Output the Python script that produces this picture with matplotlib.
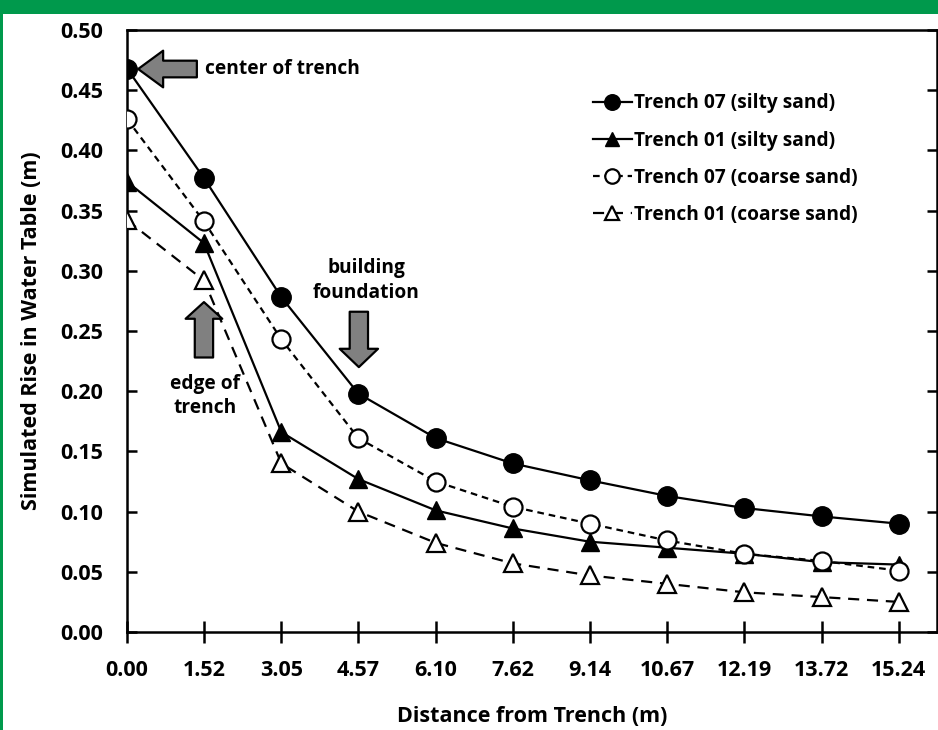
#!/usr/bin/env python3
"""
Simulated rise in water table vs distance from trench
"""

import matplotlib
matplotlib.use('Agg')
import matplotlib.pyplot as plt
from matplotlib.patches import Rectangle

plt.rcParams['font.family'] = ['Open Sans', 'DejaVu Sans']
plt.rcParams['font.weight'] = 'bold'

# Data
distance = [0.00, 1.52, 3.05, 4.57, 6.10, 7.62, 9.14, 10.67, 12.19, 13.72, 15.24]
tick_labels = ['0.00', '1.52', '3.05', '4.57', '6.10', '7.62', '9.14',
               '10.67', '12.19', '13.72', '15.24']

t07_silty = [0.468, 0.377, 0.278, 0.198, 0.161, 0.140, 0.126, 0.113, 0.103, 0.096, 0.090]
t01_silty = [0.374, 0.323, 0.166, 0.127, 0.101, 0.086, 0.075, 0.070, 0.065, 0.058, 0.056]
t07_coarse = [0.426, 0.341, 0.243, 0.161, 0.125, 0.104, 0.090, 0.076, 0.065, 0.059, 0.051]
t01_coarse = [0.342, 0.292, 0.140, 0.100, 0.074, 0.057, 0.047, 0.040, 0.033, 0.029, 0.025]

fig = plt.figure(figsize=(9.38, 7.30), dpi=100)
ax = fig.add_axes([127 / 938, 98 / 730, 810 / 938, 602 / 730])

# green frame of the source page
green = '#00994C'
fig.patches.append(Rectangle((0, 1 - 14 / 730), 1, 14 / 730, transform=fig.transFigure,
                             facecolor=green, edgecolor='none', zorder=0))
fig.patches.append(Rectangle((0, 0), 3 / 938, 1, transform=fig.transFigure,
                             facecolor=green, edgecolor='none', zorder=0))

lw = 1.6
ax.plot(distance, t01_coarse, color='black', lw=lw, dashes=(5, 3.5), marker='^', ms=13,
        mfc='white', mec='black', mew=1.6, label='Trench 01 (coarse sand)', zorder=3)
ax.plot(distance, t07_coarse, color='black', lw=lw, dashes=(3, 2.2), marker='o', ms=13,
        mfc='white', mec='black', mew=1.6, label='Trench 07 (coarse sand)', zorder=4)
ax.plot(distance, t01_silty, color='black', lw=lw, marker='^', ms=13,
        mfc='black', mec='black', label='Trench 01 (silty sand)', zorder=3.5)
ax.plot(distance, t07_silty, color='black', lw=lw, marker='o', ms=14,
        mfc='black', mec='black', label='Trench 07 (silty sand)', zorder=5)

ax.set_xlim(0, 16.0)
ax.set_ylim(0, 0.50)
ax.set_xticks(distance)
ax.set_xticklabels(tick_labels)
ax.set_yticks([0.00, 0.05, 0.10, 0.15, 0.20, 0.25, 0.30, 0.35, 0.40, 0.45, 0.50])
ax.set_yticklabels([f'{v:.2f}' for v in ax.get_yticks()])

ax.tick_params(axis='x', direction='inout', length=16, width=1.8, pad=12, labelsize=15.5)
ax.tick_params(axis='y', direction='in', length=7, width=1.8, pad=17, labelsize=15.5,
               right=True)
for s in ax.spines.values():
    s.set_linewidth(1.8)

ax.set_xlabel('Distance from Trench (m)', fontsize=15.5, fontweight='bold', labelpad=18)
ax.set_ylabel('Simulated Rise in Water Table (m)', fontsize=15.5, fontweight='bold', labelpad=13)

# annotation arrows
arrow_kw = dict(facecolor='#808080', edgecolor='black', lw=1.6)
ax.annotate('', xy=(0.22, 0.4676), xytext=(1.38, 0.4676),
            arrowprops=dict(arrowstyle='simple,head_width=2.2,head_length=1.5,tail_width=1.0',
                            mutation_scale=12, shrinkA=0, shrinkB=0, **arrow_kw))
ax.annotate('', xy=(1.52, 0.274), xytext=(1.52, 0.228),
            arrowprops=dict(arrowstyle='simple,head_width=2.2,head_length=1.0,tail_width=1.1',
                            mutation_scale=12, shrinkA=0, shrinkB=0, **arrow_kw))
ax.annotate('', xy=(4.58, 0.220), xytext=(4.58, 0.266),
            arrowprops=dict(arrowstyle='simple,head_width=2.3,head_length=1.1,tail_width=1.1',
                            mutation_scale=12, shrinkA=0, shrinkB=0, **arrow_kw))

ax.text(1.54, 0.468, 'center of trench', ha='left', va='center', fontsize=13.8, fontweight='bold')
ax.text(4.72, 0.292, 'building\nfoundation', ha='center', va='center', fontsize=13.8,
        fontweight='bold', linespacing=1.3)
ax.text(1.54, 0.196, 'edge of\ntrench', ha='center', va='center', fontsize=13.8,
        fontweight='bold', linespacing=1.3)

# legend in the order of the figure
handles, labels = ax.get_legend_handles_labels()
order = [3, 2, 1, 0]
leg = ax.legend([handles[i] for i in order], [labels[i] for i in order],
                loc='upper left', bbox_to_anchor=(576 / 938, 1 - 76 / 730),
                bbox_transform=fig.transFigure, frameon=False, fontsize=13.8,
                handlelength=2.0, handletextpad=0.1, labelspacing=0.9, markerscale=0.8)

plt.savefig('out.png', dpi=100, facecolor='white')
plt.close()
